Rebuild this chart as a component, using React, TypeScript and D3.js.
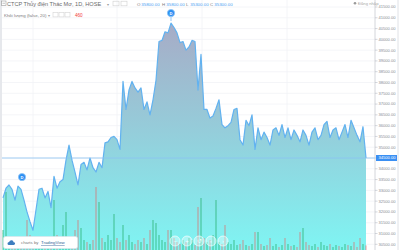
import React from "react";
import * as d3 from "d3";

const W = 400;
const H = 250;

// daily closing prices (VND), oldest first
const prices = [
  32650, 33100, 33250, 33050, 32550, 33200, 33050, 32550, 32000, 31550,
  31150, 32100, 33050, 33100, 32650, 32950, 32200, 33650, 33100, 33400,
  33500, 34400, 35100, 34400, 33850, 33250, 34200, 34300, 33950, 34500,
  34050, 33850, 34300, 34050, 35200, 35250, 35450, 35500, 35350, 34900,
  38050, 36750, 37650, 38050, 37750, 37550, 37750, 36750, 37100, 36500,
  37200, 38100, 39900, 39950, 40350, 40300, 40750, 40550, 40300, 39850,
  39900, 39500, 39650, 39950, 39900, 37650, 39300, 36750, 36750, 36350,
  36450, 36800, 37200, 36050, 35900, 36000, 36150, 36750, 36800, 35350,
  35100, 36250, 36000, 36500, 34900, 35900, 35350, 35700, 35450, 35100,
  35800, 35900, 35550, 36050, 35450, 35900, 35350, 35800, 35550, 35250,
  35800, 35550, 35100, 35700, 35900, 35350, 35550, 36050, 36200, 35450,
  35800, 35900, 35350, 35700, 36050, 35450, 36250, 35900, 35550, 35250,
  35950, 34500,
];

// daily volume (shares)
const volumes = [
  2000, 5800, 1000, 600, 1200, 800, 500, 1000, 3000, 1500,
  800, 1200, 600, 800, 500, 1000, 600, 5000, 1500, 800,
  2500, 3800, 1200, 800, 2000, 3000, 2200, 1000, 800, 600,
  1000, 6300, 4800, 1200, 800, 1500, 1000, 3600, 1200, 800,
  2500, 1000, 1500, 800, 600, 1000, 800, 1200, 600, 2000,
  3000, 2700, 1500, 1000, 800, 2000, 2000, 1200, 800, 600,
  1000, 800, 1200, 1000, 500, 4300, 5200, 1200, 800, 1000,
  1500, 5000, 800, 600, 2500, 800, 600, 1000, 500, 600,
  1000, 500, 400, 600, 1800, 1800, 600, 400, 500, 1200,
  400, 600, 300, 500, 1200, 600, 400, 500, 300, 1800,
  2200, 800, 500, 400, 600, 300, 800, 500, 400, 600,
  300, 500, 400, 300, 600, 500, 400, 800, 300, 1200,
  600, 460,
];

const priceTicks = d3.range(30500, 41501, 500);
const lastPrice = prices[prices.length - 1];

const headerTitle = "CTCP Thủy điện Thác Mơ, 1D, HOSE";
const ohlcLabels = ["O", "H", "L", "C"];
const ohlcValues = [35800, 35800, 35300, 35300];
const volumeTitle = "Khối lượng (false, 20)";
const volumeLast = "460";

// dividend markers (indices in the series)
const markerIdx = [5, 56];

const FONT = "'Liberation Sans', Arial, sans-serif";

export default function App() {
  const x = d3.scaleLinear().domain([0, prices.length - 1]).range([3, 366]);
  const y = d3.scaleLinear().domain([30500, 41500]).range([244.3, 7]);
  const yv = d3.scaleLinear().domain([0, 6300]).range([H, 187]);

  const line = d3
    .line<number>()
    .x((_, i) => x(i))
    .y((d) => y(d));
  const area = d3
    .area<number>()
    .x((_, i) => x(i))
    .y0(H)
    .y1((d) => y(d));

  const axisX = 375;
  const ohlcX = [137, 162, 186, 210];

  return (
    <svg
      width={W}
      height={H}
      style={{ position: "absolute", left: 0, top: 0, background: "#fff" }}
      fontFamily={FONT}
    >
      <defs>
        <linearGradient id="areaGrad" gradientUnits="userSpaceOnUse" x1="0" y1={y(40800)} x2="0" y2={H}>
          <stop offset="0" stopColor="#a7abc6" />
          <stop offset="0.45" stopColor="#96cbd9" />
          <stop offset="1" stopColor="#7ff5f3" />
        </linearGradient>
        <clipPath id="pane">
          <rect x={2} y={0} width={axisX - 2} height={H} />
        </clipPath>
      </defs>

      <rect x={0} y={0} width={W} height={H} fill="#fff" />

      {/* grid */}
      {priceTicks.map((t) => (
        <line key={"g" + t} x1={2} x2={axisX} y1={y(t)} y2={y(t)} stroke="#f1f3f6" strokeWidth={0.8} />
      ))}
      {[33, 117, 202, 287].map((gx) => (
        <line key={"v" + gx} x1={gx} x2={gx} y1={0} y2={H} stroke="#f1f3f6" strokeWidth={0.8} />
      ))}

      <g clipPath="url(#pane)">
        <path d={area(prices) || ""} fill="url(#areaGrad)" />
        {volumes.map((v, i) => {
          const up = i === 0 || prices[i] >= prices[i - 1];
          return (
            <rect
              key={"vb" + i}
              x={x(i) - 0.9}
              y={yv(v)}
              width={1.8}
              height={H - yv(v)}
              fill={up ? "rgba(38,176,110,0.42)" : "rgba(239,83,80,0.33)"}
            />
          );
        })}
        <path d={line(prices) || ""} fill="none" stroke="#62b2f0" strokeWidth={1.2} strokeLinejoin="round" />
        <line x1={2} x2={axisX} y1={y(lastPrice)} y2={y(lastPrice)} stroke="#8cc2f2" strokeWidth={0.8} />
      </g>

      {/* left edge strip */}
      <rect x={0} y={0} width={2} height={H} fill="#e6e8ec" />

      {/* markers */}
      {markerIdx.map((mi, k) => {
        const cx = x(mi) + (k === 0 ? 4 : 0);
        const cy = k === 0 ? y(prices[mi]) - 9 : 13;
        return (
          <g key={"m" + mi}>
            {k === 1 && <line x1={cx} x2={cx} y1={cy + 4} y2={cy + 8} stroke="#7ab8f2" strokeWidth={0.8} />}
            <circle cx={cx} cy={cy} r={3.6} fill="#2c8ef2" stroke="#8cc4f6" strokeWidth={0.8} />
            <text x={cx} y={cy + 1.5} fontSize={4} fill="#fff" textAnchor="middle" fontWeight="bold">
              D
            </text>
          </g>
        );
      })}

      {/* price axis */}
      <line x1={axisX} x2={axisX} y1={0} y2={H} stroke="#c9ccd2" strokeWidth={0.8} />
      <line x1={398} x2={398} y1={0} y2={H} stroke="#e0e2e6" strokeWidth={1} />
      {priceTicks.map((t) => (
        <g key={"t" + t}>
          <line x1={axisX} x2={axisX + 2.5} y1={y(t)} y2={y(t)} stroke="#b8bcc4" strokeWidth={0.6} />
          <text x={axisX + 3.5} y={y(t) + 1.4} fontSize={4.1} fill="#8a8e96">
            {t.toFixed(2)}
          </text>
        </g>
      ))}
      <rect x={axisX + 1} y={y(lastPrice) - 3} width={21} height={6} fill="#3a8ff3" />
      <text x={axisX + 3.5} y={y(lastPrice) + 1.4} fontSize={4.1} fill="#fff">
        {lastPrice.toFixed(2)}
      </text>

      {/* header */}
      <rect x={1.5} y={1} width={4.5} height={4.5} fill="none" stroke="#9a9a9a" strokeWidth={0.6} />
      <line x1={2.5} x2={5} y1={3.25} y2={3.25} stroke="#9a9a9a" strokeWidth={0.6} />
      <text x={7} y={6} fontSize={5.6} fill="#6a6a6a">
        {headerTitle}
      </text>
      <text x={106.5} y={5.5} fontSize={4} fill="#9a9a9a">▾</text>
      <rect x={113} y={1.2} width={6} height={4.6} fill="none" stroke="#d0d0d0" strokeWidth={0.6} />
      <rect x={121} y={1.2} width={6} height={4.6} fill="none" stroke="#d0d0d0" strokeWidth={0.6} />
      {ohlcLabels.map((lab, i) => (
        <g key={lab}>
          <text x={ohlcX[i]} y={5.5} fontSize={4.4} fill="#7a7a7a">
            {lab}
          </text>
          <text x={ohlcX[i] + 4.3} y={5.5} fontSize={4.4} fill="#4aa0f2">
            {ohlcValues[i].toFixed(2)}
          </text>
        </g>
      ))}

      <text x={4} y={16.5} fontSize={4.4} fill="#7a7a7a">
        {volumeTitle}
      </text>
      <text x={48} y={16.5} fontSize={3.6} fill="#9a9a9a">▾</text>
      {[53, 59, 65].map((bx) => (
        <rect key={"bx" + bx} x={bx} y={12.5} width={5} height={4.4} fill="none" stroke="#d4d4d4" strokeWidth={0.6} />
      ))}
      <text x={75} y={16.5} fontSize={4.6} fill="#f23b3b">
        {volumeLast}
      </text>

      <circle cx={355} cy={3.3} r={1.3} fill="#9a9a9a" />
      <text x={358} y={4.8} fontSize={4.2} fill="#a8a8a8">
        Đăng nhập
      </text>

      {/* TradingView badge */}
      <rect x={3.5} y={236.5} width={74} height={12} rx={2} fill="#fff" stroke="#dfe3ea" strokeWidth={0.6} />
      <path d="M9 245 q-1.5 0 -1.5 -1.5 q0 -1.5 1.6 -1.5 q0.6 -2 2.6 -1.8 q1.7 0.2 1.9 2 q1.5 0 1.5 1.4 q0 1.4 -1.5 1.4 z" fill="#3d7dbf" />
      <text x={21} y={244.3} fontSize={4.3} fill="#7a7a7a">
        charts by
      </text>
      <text x={41} y={244.3} fontSize={4.3} fill="#2d5f95" textDecoration="underline">
        TradingView
      </text>

      {/* navigation buttons */}
      {[
        [175, "−"],
        [187, "+"],
        [199, "↺"],
        [211, "‹"],
        [223, "›"],
      ].map(([bx, g]) => (
        <g key={"nb" + bx}>
          <circle cx={bx as number} cy={241} r={5} fill="rgba(255,255,255,0.35)" stroke="rgba(255,255,255,0.8)" strokeWidth={0.8} />
          <text x={bx as number} y={242.8} fontSize={5.5} textAnchor="middle" fill="rgba(255,255,255,0.9)">
            {g as string}
          </text>
        </g>
      ))}
    </svg>
  );
}
